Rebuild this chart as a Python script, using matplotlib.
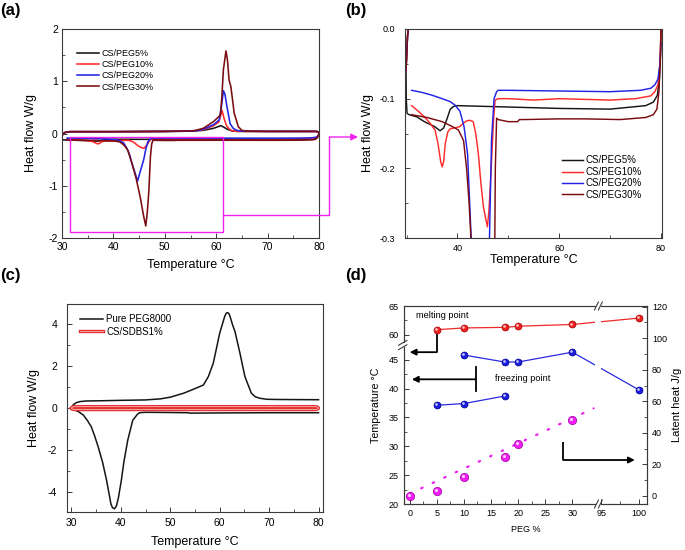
import numpy as np
import matplotlib
matplotlib.use('Agg')
import matplotlib.pyplot as plt
import matplotlib.patheffects as pe
from matplotlib.lines import Line2D
from matplotlib.patches import Rectangle, FancyArrowPatch
from matplotlib.ticker import MultipleLocator, FixedLocator, FormatStrFormatter
from matplotlib.transforms import offset_copy

plt.rcParams['font.family'] = ['Liberation Sans', 'DejaVu Sans']
plt.rcParams['axes.unicode_minus'] = False

# ---- (a)/(b) DSC curves, heat flow W/g vs temperature °C ----
heat5_t = [29.9, 30.2, 30.6, 31.5, 40, 50, 55, 57.5, 59.5, 60.9, 61.5, 62.2, 63, 64, 70, 79.5, 79.85, 80.0]
heat5_q = [-0.06, -0.01, 0.02, 0.035, 0.035, 0.04, 0.045, 0.06, 0.1, 0.15, 0.12, 0.08, 0.05, 0.04, 0.04, 0.04, 0.03, 0.0]
cool5_t = [80.0, 79.9, 79.7, 79.3, 78.5, 77, 70, 60, 50, 45, 40, 39.3, 38.6, 38.0, 37.3, 36.6, 35.5, 33.5, 32,
           30.5, 30.1, 29.95, 29.9]
cool5_q = [0.0, -0.035, -0.07, -0.095, -0.105, -0.11, -0.115, -0.114, -0.112, -0.111, -0.11, -0.111, -0.115,
           -0.128, -0.142, -0.146, -0.14, -0.133, -0.126, -0.123, -0.121, -0.1, -0.06]

heat10_t = [29.9, 30.2, 30.6, 31.5, 40, 50, 55, 57.5, 59.5, 60.5, 61.15, 61.5, 62, 62.7, 63.5, 66, 70, 79.5, 79.85, 80.0]
heat10_q = [-0.06, -0.01, 0.02, 0.035, 0.035, 0.04, 0.05, 0.07, 0.15, 0.22, 0.44, 0.3, 0.15, 0.07, 0.045, 0.04,
            0.04, 0.04, 0.03, 0.0]
cool10_t = [80.0, 79.8, 79.4, 78.8, 78, 75, 70, 65, 60, 55, 50, 48, 47.4, 47.1, 46.75, 46.5, 46.2, 45.9, 45.5, 45.1,
            44.6, 44.1, 43.6, 43.1, 42.4, 41.8, 41.2, 40.5, 39.5, 38.6, 38.1, 37.6, 37.3, 37.0, 36.7, 36.2, 35.6,
            34.6, 33.5, 32.3, 31]
cool10_q = [0.0, -0.05, -0.08, -0.09, -0.096, -0.1, -0.102, -0.101, -0.1, -0.102, -0.1, -0.1, -0.102, -0.13,
            -0.183, -0.22, -0.26, -0.284, -0.27, -0.255, -0.22, -0.178, -0.15, -0.133, -0.131, -0.132, -0.135,
            -0.14, -0.142, -0.143, -0.148, -0.165, -0.19, -0.198, -0.19, -0.165, -0.145, -0.135, -0.126, -0.118, -0.11]

heat20_t = [29.9, 30.2, 30.6, 31.5, 40, 50, 55.6, 57.5, 59.5, 60.6, 61.0, 61.4, 61.7, 62.1, 62.7, 63.3, 64, 65, 70,
            79.5, 79.85, 80.0]
heat20_q = [-0.06, -0.01, 0.02, 0.035, 0.035, 0.04, 0.045, 0.08, 0.17, 0.26, 0.5, 0.82, 0.75, 0.51, 0.19, 0.1,
            0.06, 0.045, 0.04, 0.04, 0.03, 0.0]
cool20_t = [80.0, 79.8, 79.4, 78.8, 78, 76, 70, 60, 50, 48, 47.7, 47.2, 46.7, 46.3, 45.9, 45.3, 44.7, 44.2, 43.6,
            43.2, 42.7, 42.0, 41.3, 40.5, 39.5, 38.5, 37, 35, 33, 31]
cool20_q = [-0.02, -0.05, -0.072, -0.08, -0.085, -0.088, -0.09, -0.089, -0.088, -0.088, -0.09, -0.1, -0.16, -0.3,
            -0.5, -0.7, -0.91, -0.75, -0.57, -0.42, -0.3, -0.18, -0.14, -0.118, -0.109, -0.104, -0.1, -0.095,
            -0.091, -0.088]

heat30_t = [29.9, 30.2, 30.6, 31.5, 40, 50, 53, 55.6, 57.5, 59.5, 60.8, 61.1, 61.4, 61.9, 62.2, 62.5, 62.85, 63.5,
            64.3, 65, 66, 70, 79.5, 79.85, 80.0]
heat30_q = [-0.06, -0.01, 0.02, 0.035, 0.035, 0.04, 0.045, 0.05, 0.1, 0.23, 0.35, 0.7, 1.22, 1.58, 1.4, 1.02, 0.9,
            0.39, 0.13, 0.06, 0.045, 0.04, 0.04, 0.03, 0.0]
cool30_t = [80.0, 79.9, 79.6, 79.2, 78.5, 77, 72, 65, 60, 53, 52.2, 51.8, 50, 48, 47.7, 47.45, 47.2, 46.9, 46.6,
            46.3, 45.9, 45.2, 44.4, 43.6, 42.8, 42.3, 41.8, 41.2, 40.2, 39, 37, 34, 31]
cool30_q = [0.0, -0.04, -0.09, -0.115, -0.123, -0.127, -0.13, -0.129, -0.129, -0.13, -0.13, -0.133, -0.133, -0.13,
            -0.128, -0.2, -0.45, -1.1, -1.5, -1.77, -1.59, -1.21, -0.85, -0.57, -0.32, -0.25, -0.2, -0.16, -0.145,
            -0.14, -0.133, -0.127, -0.123]

sample_names = ['CS/PEG5%', 'CS/PEG10%', 'CS/PEG20%', 'CS/PEG30%']
sample_colors = ['#151515', '#ff2b2b', '#2323e6', '#7a0c10']

# ---- (c) pure PEG8000 and CS/SDBS1% ----
peg8000_heat_t = [30.0, 30.4, 31.0, 31.7, 33.0, 36, 40, 45, 48, 50, 52.7, 54.7, 56.7, 57.7, 58.7, 60.0, 61.0, 61.3,
                  61.6, 61.9, 62.1, 62.6, 63.1, 64.1, 65.1, 66.4, 67.2, 68.1, 69.5, 72, 80]
peg8000_heat_q = [0.0, 0.15, 0.24, 0.29, 0.32, 0.33, 0.35, 0.37, 0.42, 0.5, 0.69, 0.88, 1.08, 1.48, 2.12, 3.55,
                  4.34, 4.5, 4.53, 4.47, 4.34, 3.95, 3.62, 2.59, 1.48, 0.69, 0.52, 0.45, 0.4, 0.39, 0.38]
peg8000_cool_t = [80, 70, 60, 54, 53.5, 50, 45.0, 43.8, 43.4, 42.4, 41.4, 40.6, 40.1, 39.5, 39.1, 38.7, 38.3, 38.0,
                  37.1, 36.3, 35.4, 34.7, 34.0, 33.2, 32.4, 31.5, 30.7, 30.2, 30.0]
peg8000_cool_q = [-0.24, -0.24, -0.25, -0.26, -0.24, -0.23, -0.22, -0.24, -0.3, -0.6, -1.54, -2.6, -3.45, -4.3,
                  -4.68, -4.82, -4.76, -4.6, -3.45, -2.6, -1.86, -1.35, -0.9, -0.6, -0.35, -0.2, -0.11, -0.05, 0.0]
sdbs_t = [30.0, 30.3, 31, 79, 79.7, 80.0, 79.7, 79, 31, 30.3, 30.0]
sdbs_q = [-0.02, 0.04, 0.05, 0.05, 0.04, -0.02, -0.08, -0.09, -0.09, -0.08, -0.02]

# ---- (d) transition temperatures and latent heat vs PEG % ----
peg_melt = [5, 10, 17.5, 20, 30, 100]
t_melt = [60.9, 61.2, 61.3, 61.5, 61.8, 62.9]
peg_freeze_hi = [10, 17.5, 20, 30, 100]
t_freeze_hi = [45.8, 44.6, 44.6, 46.3, 39.8]
peg_freeze_lo = [5, 10, 17.5]
t_freeze_lo = [37.1, 37.4, 38.7]
peg_latent = [0, 5, 10, 17.5, 20, 30]
latent_heat = [0.0, 3.2, 11.8, 24.9, 33.0, 48.2]
trend_peg = [0, 30]
trend_heat = [1.5, 49.3]
peg_ticks = [0, 5, 10, 15, 20, 25, 30, 95, 100]
temp_ticks = [20, 25, 30, 35, 40, 45, 60, 65]

W, H = 685, 550
INK = '#3a3a3a'
MAG = '#ee22ee'


def box(l, t, r, b):
    return [l / W, 1 - b / H, (r - l) / W, (b - t) / H]


def style(ax, size, padx=3, pady=3):
    for s in ax.spines.values():
        s.set_linewidth(0.8)
        s.set_color(INK)
    ax.tick_params(which='both', direction='in', color=INK, labelsize=size)
    ax.tick_params(which='major', length=3.5, width=0.7)
    ax.tick_params(which='minor', length=2, width=0.6)
    ax.tick_params(axis='x', pad=padx)
    ax.tick_params(axis='y', pad=pady)


fig = plt.figure(figsize=(6.85, 5.5), dpi=100)

# ---------------- (a) ----------------
ax_a = fig.add_axes(box(62, 29, 319, 238))
curves = [(heat5_t, heat5_q, cool5_t, cool5_q), (heat10_t, heat10_q, cool10_t, cool10_q),
          (heat20_t, heat20_q, cool20_t, cool20_q), (heat30_t, heat30_q, cool30_t, cool30_q)]
for name, col, (ht, hq, ct, cq) in zip(sample_names, sample_colors, curves):
    ax_a.plot(ht, hq, color=col, lw=1.15, label=name)
    ax_a.plot(ct, cq, color=col, lw=1.15)
ax_a.set_xlim(30, 80)
ax_a.set_ylim(-2, 2)
ax_a.xaxis.set_major_locator(MultipleLocator(10))
ax_a.xaxis.set_minor_locator(MultipleLocator(5))
ax_a.yaxis.set_major_locator(MultipleLocator(1))
ax_a.yaxis.set_minor_locator(MultipleLocator(0.5))
ax_a.yaxis.set_major_formatter(FormatStrFormatter('%g'))
style(ax_a, 7.5, padx=3, pady=3)
ax_a.set_xlabel('Temperature °C', fontsize=9, labelpad=5)
ax_a.set_ylabel('Heat flow W/g', fontsize=9, labelpad=8)
ax_a.legend(loc='upper left', bbox_to_anchor=(0.058, 0.905), frameon=False, fontsize=6.5,
            handlelength=2.4, handletextpad=0.3, labelspacing=0.25, borderpad=0, borderaxespad=0)

# zoom frame drawn on (a)
zoom_t = [31.5, 61.4]
zoom_q = [-1.89, -0.06]
ax_a.add_patch(Rectangle((zoom_t[0], zoom_q[0]), zoom_t[1] - zoom_t[0], zoom_q[1] - zoom_q[0],
                         fill=False, ec=MAG, lw=1.0, zorder=5))

# ---------------- (b) ----------------
ax_b = fig.add_axes(box(405, 29, 662, 238))
for name, col, (ht, hq, ct, cq) in zip(sample_names, sample_colors, curves):
    ax_b.plot(ct, cq, color=col, lw=1.05, label=name)
    ax_b.plot(ht, hq, color=col, lw=1.05)
ax_b.set_xlim(29.7, 80.2)
ax_b.set_ylim(-0.3, 0.0)
ax_b.xaxis.set_major_locator(MultipleLocator(20))
ax_b.xaxis.set_minor_locator(MultipleLocator(10))
ax_b.yaxis.set_major_locator(MultipleLocator(0.1))
ax_b.yaxis.set_minor_locator(MultipleLocator(0.05))
ax_b.yaxis.set_major_formatter(FormatStrFormatter('%.1f'))
style(ax_b, 6.5, padx=4, pady=7)
ax_b.set_xlabel('Temperature °C', fontsize=9, labelpad=1)
ax_b.set_ylabel('Heat flow W/g', fontsize=9, labelpad=4)
ax_b.legend(loc='upper left', bbox_to_anchor=(0.61, 0.395), frameon=False, fontsize=7,
            handlelength=2.2, handletextpad=0.2, labelspacing=0.15, borderpad=0, borderaxespad=0)

# ---------------- (c) ----------------
ax_c = fig.add_axes(box(67, 304, 323, 512))
ax_c.plot(peg8000_heat_t, peg8000_heat_q, color='#151515', lw=1.1, label='Pure PEG8000')
ax_c.plot(peg8000_cool_t, peg8000_cool_q, color='#151515', lw=1.1)
ax_c.plot(sdbs_t, sdbs_q, color='#f0b8b8', lw=0.6, label='CS/SDBS1%',
          path_effects=[pe.Stroke(linewidth=2.4, foreground='#e83030'), pe.Normal()])
ax_c.set_xlim(29.1, 80.9)
ax_c.set_ylim(-4.97, 4.94)
ax_c.xaxis.set_major_locator(MultipleLocator(10))
ax_c.xaxis.set_minor_locator(MultipleLocator(5))
ax_c.yaxis.set_major_locator(MultipleLocator(2))
ax_c.yaxis.set_minor_locator(MultipleLocator(1))
style(ax_c, 7.5, padx=4, pady=7)
ax_c.set_xlabel('Temperature °C', fontsize=9, labelpad=6)
ax_c.set_ylabel('Heat flow W/g', fontsize=9, labelpad=6)
ax_c.legend(loc='upper left', bbox_to_anchor=(0.05, 0.95), frameon=False, fontsize=7,
            handlelength=2.4, handletextpad=0.3, labelspacing=0.25, borderpad=0, borderaxespad=0)

# ---------------- (d) ----------------
x_knots = [-100, 30, 95, 300]
x_pos = [-100, 30, 35.3, 35.3 + 205 * 1.38]
y_knots = [0, 47, 59, 100]
y_pos = [0, 47, 48.3, 89.3]


def x_fwd(v):
    return np.interp(v, x_knots, x_pos)


def x_inv(v):
    return np.interp(v, x_pos, x_knots)


def y_fwd(v):
    return np.interp(v, y_knots, y_pos)


def y_inv(v):
    return np.interp(v, y_pos, y_knots)


ax_d = fig.add_axes(box(404, 306, 647, 504))
ax_d.set_xscale('function', functions=(x_fwd, x_inv))
ax_d.set_yscale('function', functions=(y_fwd, y_inv))
ax_d.set_xlim(-1.05, x_inv(43.75))
ax_d.set_ylim(20, 65)
ax_d.xaxis.set_major_locator(FixedLocator(peg_ticks))
ax_d.xaxis.set_minor_locator(FixedLocator([2.5, 7.5, 12.5, 17.5, 22.5, 27.5, 97.5]))
ax_d.xaxis.set_major_formatter(FormatStrFormatter('%g'))
ax_d.yaxis.set_major_locator(FixedLocator(temp_ticks))
ax_d.yaxis.set_minor_locator(FixedLocator([22.5, 27.5, 32.5, 37.5, 42.5, 62.5]))
ax_d.yaxis.set_major_formatter(FormatStrFormatter('%g'))
style(ax_d, 6.5, padx=3.5, pady=4)
ax_d.set_xlabel('PEG %', fontsize=6.5, labelpad=5)
ax_d.set_ylabel('Temperature °C', fontsize=7.7, labelpad=5)

ax_h = ax_d.twinx()
ax_h.set_ylim(-5.07, 120.4)
ax_h.yaxis.set_major_locator(MultipleLocator(20))
ax_h.yaxis.set_minor_locator(MultipleLocator(10))
style(ax_h, 6.5, padx=3.5, pady=3.5)
ax_h.set_ylabel('Latent heat J/g', fontsize=8, labelpad=3.5)


def balls(ax, x, y, col, edge, size):
    ax.plot(x, y, 'o', ms=size, mfc=col, mec=edge, mew=0.5, zorder=4)
    shine = offset_copy(ax.transData, fig=fig, x=-0.7, y=0.7, units='points')
    ax.plot(x, y, 'o', ms=size * 0.38, mfc='white', mec='none', alpha=0.75, transform=shine, zorder=5)


ax_d.plot(peg_melt, t_melt, color='#ee2a2a', lw=0.9, zorder=2)
ax_d.plot(peg_freeze_hi, t_freeze_hi, color='#2a2ae0', lw=0.9, zorder=2)
ax_d.plot(peg_freeze_lo, t_freeze_lo, color='#2a2ae0', lw=0.9, zorder=2)
# gap in the lines at the axis break
ax_d.add_patch(Rectangle((0.787, 0), 0.025, 1, transform=ax_d.transAxes, fc='white', ec='none', zorder=2.2))
balls(ax_d, peg_melt, t_melt, '#f02020', '#a00000', 5)
balls(ax_d, peg_freeze_hi, t_freeze_hi, '#1c1cdd', '#000090', 5)
balls(ax_d, peg_freeze_lo, t_freeze_lo, '#1c1cdd', '#000090', 5)

# dotted trend of latent heat, straight on screen up to just before the break
slope = (trend_heat[1] - trend_heat[0]) / (trend_peg[1] - trend_peg[0])
trend_pos = np.array([0, 30, 33.9])
ax_h.plot(x_inv(trend_pos), trend_heat[0] + slope * trend_pos, color=MAG, lw=1.6,
          linestyle=(0, (0.7, 5)), dash_capstyle='round', zorder=2)
balls(ax_h, peg_latent, latent_heat, '#f21ff2', '#a000a0', 6)

arrow = dict(arrowstyle='-|>', color='black', lw=1.3, mutation_scale=9, shrinkA=0, shrinkB=0)
ax_d.plot([5, 5], [60.1, 46.3], color='black', lw=1.3, solid_capstyle='butt')
ax_d.annotate('', xy=(0.0, 46.3), xytext=(5, 46.3), arrowprops=arrow)
ax_d.plot([12.2, 12.2], [39.65, 43.7], color='black', lw=1.3)
ax_d.annotate('', xy=(0.4, 41.6), xytext=(12.2, 41.6), arrowprops=arrow)
ax_h.plot([28.3, 28.3], [34.5, 22.8], color='black', lw=1.3, solid_capstyle='butt')
ax_h.annotate('', xy=(99.5, 22.8), xytext=(28.3, 22.8), arrowprops=arrow)
ax_d.text(1.2, 63.3, 'melting point', fontsize=6.6, va='center')
ax_d.text(15.7, 41.7, 'freezing point', fontsize=6.6, va='center')


def break_mark(ax, xf, yf, on_left=False):
    if on_left:
        ax.add_patch(Rectangle((xf - 0.03, yf - 0.012), 0.06, 0.024, transform=ax.transAxes,
                               fc='white', ec='none', clip_on=False, zorder=6))
        for off in (-0.011, 0.011):
            ax.plot([xf - 0.022, xf + 0.012], [yf + off - 0.012, yf + off + 0.012], color=INK, lw=0.8,
                    transform=ax.transAxes, clip_on=False, zorder=7)
    else:
        ax.add_patch(Rectangle((xf - 0.011, yf - 0.02), 0.022, 0.04, transform=ax.transAxes,
                               fc='white', ec='none', clip_on=False, zorder=6))
        for off in (-0.008, 0.008):
            ax.plot([xf + off - 0.008, xf + off + 0.008], [yf - 0.02, yf + 0.02], color=INK, lw=0.8,
                    transform=ax.transAxes, clip_on=False, zorder=7)


break_mark(ax_h, 0.80, 1.0)
break_mark(ax_h, 0.80, 0.0)
break_mark(ax_h, 0.0, 0.803, on_left=True)

# ---------------- connector from (a) to (b) ----------------
to_fig = fig.transFigure.inverted()
p0 = to_fig.transform(ax_a.transData.transform((zoom_t[1], -1.56)))
xk, yk = 329.3 / W, 1 - 137 / H
fig.add_artist(Line2D([p0[0], xk, xk], [p0[1], p0[1], yk], color=MAG, lw=1.0))
fig.add_artist(FancyArrowPatch((xk, yk), (358 / W, yk), transform=fig.transFigure, arrowstyle='-|>',
                               color=MAG, lw=1.0, mutation_scale=10, shrinkA=0, shrinkB=0))

# ---------------- panel letters ----------------
for letter, x, y in [('(a)', 0, 3), ('(b)', 345, 3), ('(c)', 0, 268), ('(d)', 345, 268)]:
    fig.text(x / W, 1 - y / H, letter, fontsize=12, fontweight='bold', va='top', ha='left')

fig.savefig('out.png', dpi=100)
